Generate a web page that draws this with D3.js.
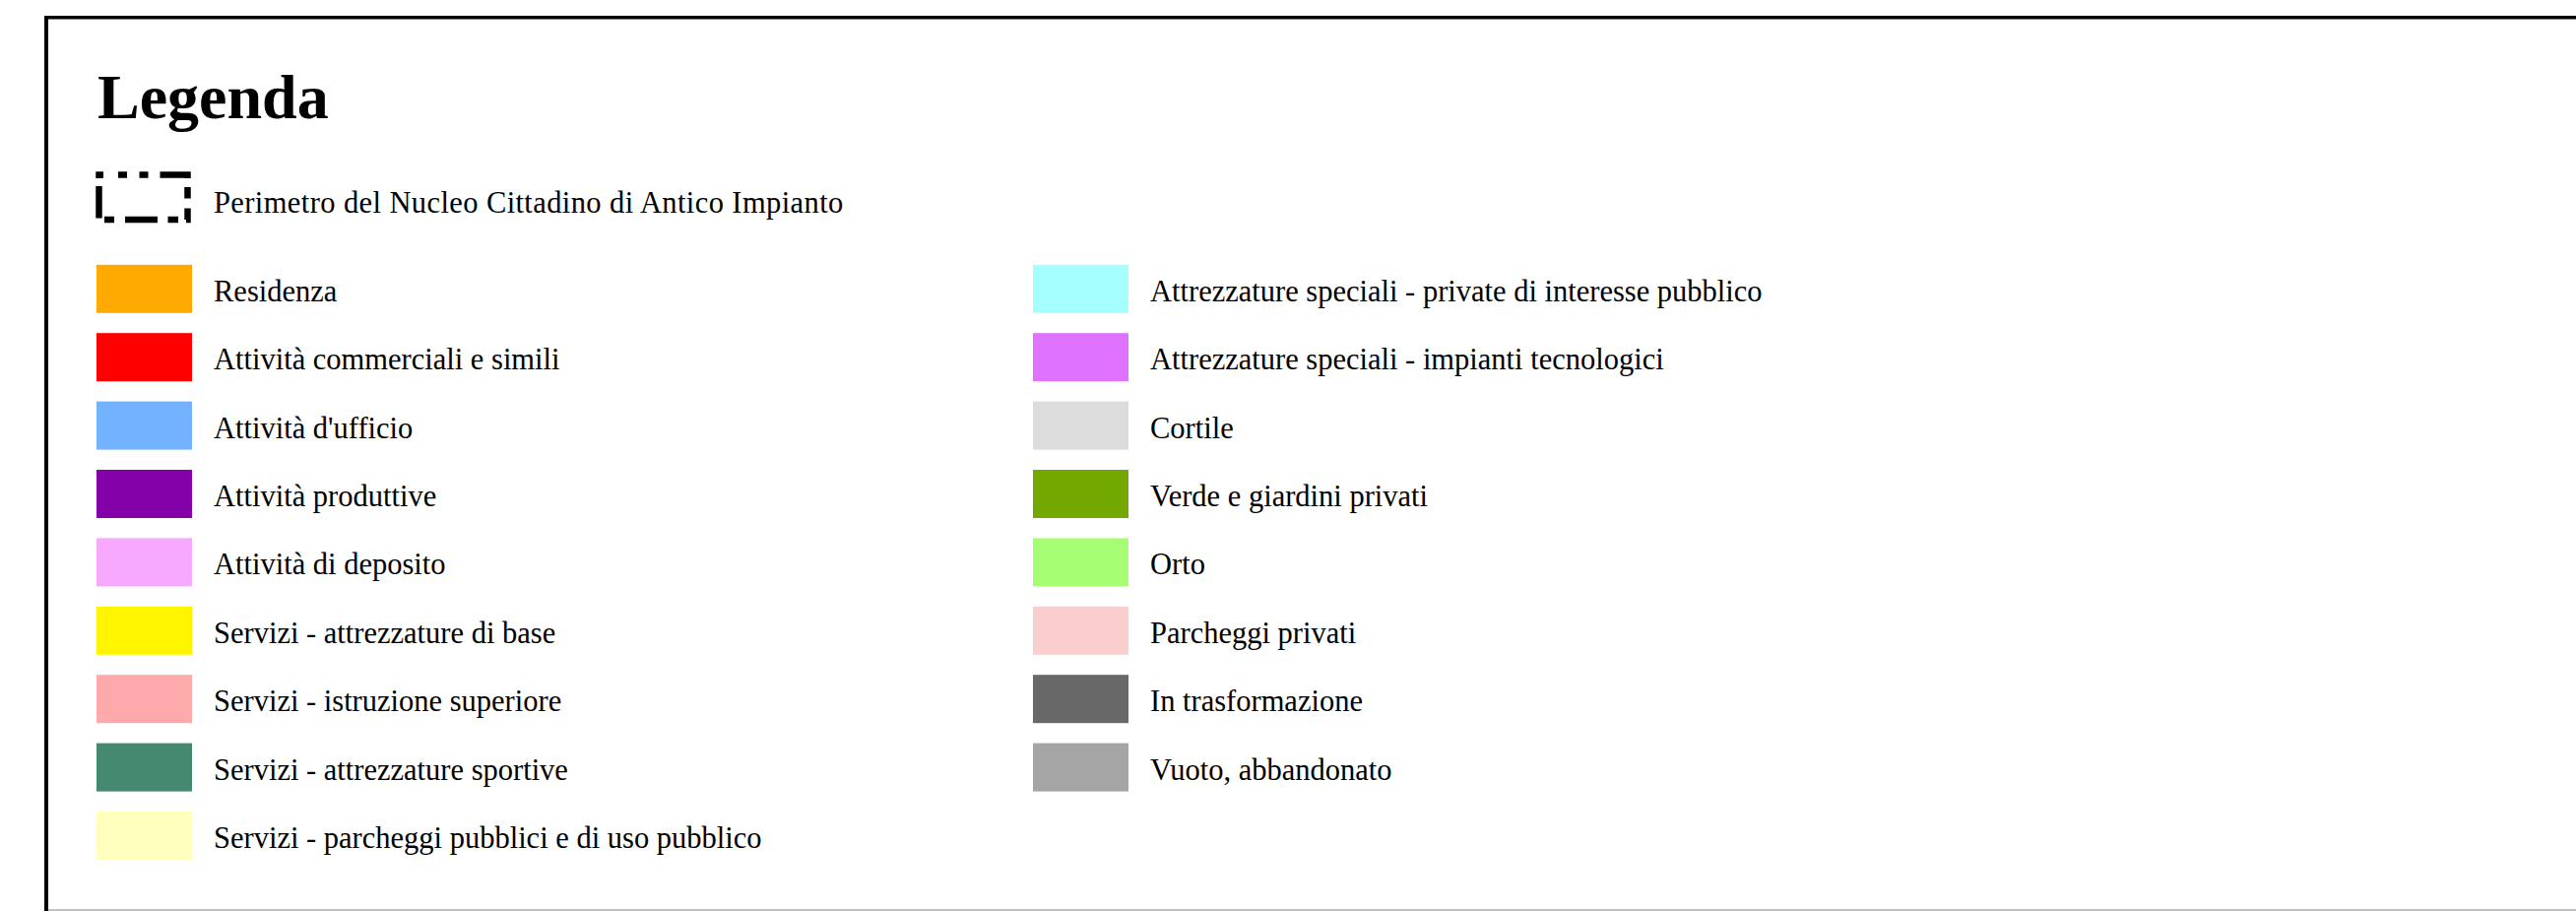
<!DOCTYPE html>
<html>
<head>
<meta charset="utf-8">
<script src="https://cdn.jsdelivr.net/npm/d3@7"></script>
<style>
  body { margin: 0; background: #fff; }
  svg { display: block; }
</style>
</head>
<body>
<div id="legend"></div>
<script>
// legend content
const title = "Legenda";
const perimeterLabel = "Perimetro del Nucleo Cittadino di Antico Impianto";

const leftLabels = [
  "Residenza",
  "Attività commerciali e simili",
  "Attività d'ufficio",
  "Attività produttive",
  "Attività di deposito",
  "Servizi - attrezzature di base",
  "Servizi - istruzione superiore",
  "Servizi - attrezzature sportive",
  "Servizi - parcheggi pubblici e di uso pubblico"
];
const leftColors = [
  "#ffaa00", "#ff0000", "#73b2ff", "#8400a8", "#f7a8ff",
  "#fff500", "#ffaaaa", "#448970", "#ffffbe"
];

const rightLabels = [
  "Attrezzature speciali - private di interesse pubblico",
  "Attrezzature speciali - impianti tecnologici",
  "Cortile",
  "Verde e giardini privati",
  "Orto",
  "Parcheggi privati",
  "In trasformazione",
  "Vuoto, abbandonato"
];
const rightColors = [
  "#a6ffff", "#df73ff", "#dcdcdc", "#72a800",
  "#a6ff73", "#facece", "#686868", "#a5a5a5"
];

const width = 2616;
const height = 925;
const font = "'Liberation Serif', 'DejaVu Serif', serif";

const svg = d3.select("#legend")
  .append("svg")
  .attr("width", width)
  .attr("height", height);

svg.append("rect")
  .attr("width", width)
  .attr("height", height)
  .attr("fill", "#fff");

// frame
svg.append("line")
  .attr("x1", 47).attr("y1", 16).attr("x2", 47).attr("y2", height)
  .attr("stroke", "#000").attr("stroke-width", 4);
svg.append("line")
  .attr("x1", 45).attr("y1", 17.7).attr("x2", width).attr("y2", 17.7)
  .attr("stroke", "#000").attr("stroke-width", 3.5);
svg.append("line")
  .attr("x1", 49).attr("y1", 924).attr("x2", width).attr("y2", 924)
  .attr("stroke", "#aaa").attr("stroke-width", 1.5);

// title
svg.append("text")
  .attr("x", 99)
  .attr("y", 120)
  .text(title)
  .style("font-family", font)
  .style("font-weight", "bold")
  .style("font-size", "64px")
  .attr("fill", "#000");

// scales: columns and rows
const colScale = d3.scaleOrdinal()
  .domain(["left", "right"])
  .range([98, 1049]);

const rowScale = d3.scaleLinear()
  .domain([0, 1])
  .range([293.3, 362.7]);

const swatchW = 97;
const swatchH = 49;
const textGap = 119;

// perimeter symbol (dashed rectangle)
const perim = svg.append("g");
perim.append("rect")
  .attr("x", colScale("left") + 2.5)
  .attr("y", 177.5)
  .attr("width", swatchW - 7)
  .attr("height", 45.5)
  .attr("fill", "none")
  .attr("stroke", "#000")
  .attr("stroke-width", 6.5)
  .attr("stroke-dasharray", "4.5 15 9 12.5 9 12 31.5 9 11.5 10 13 8 10.5 10.5 33 11 10 7 32.5 8 3.5");

perim.append("text")
  .attr("x", colScale("left") + textGap)
  .attr("y", 216)
  .text(perimeterLabel)
  .style("font-family", font)
  .style("font-size", "30.5px")
  .style("letter-spacing", "0.4px")
  .attr("fill", "#000");

// legend rows
const items = [
  ...leftLabels.map((label, i) => ({ col: "left", row: i, label, color: leftColors[i] })),
  ...rightLabels.map((label, i) => ({ col: "right", row: i, label, color: rightColors[i] }))
];

const rows = svg.selectAll(".item")
  .data(items)
  .join("g")
  .attr("class", "item")
  .attr("transform", d => `translate(${colScale(d.col)},${rowScale(d.row)})`);

rows.append("rect")
  .attr("x", 0)
  .attr("y", -swatchH / 2)
  .attr("width", swatchW)
  .attr("height", swatchH)
  .attr("fill", d => d.color);

rows.append("text")
  .attr("x", textGap)
  .attr("y", 12.5)
  .text(d => d.label)
  .style("font-family", font)
  .style("font-size", "30.5px")
  .attr("fill", "#000");
</script>
</body>
</html>
